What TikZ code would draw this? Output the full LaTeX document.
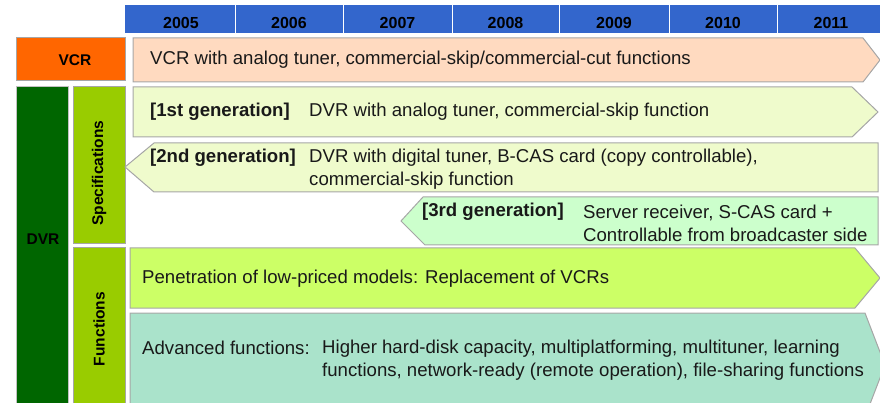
\documentclass[tikz,border=0pt]{standalone}
\usepackage{fontspec}
\setmainfont{Liberation Sans}
\definecolor{hdr}{HTML}{3366CC}
\definecolor{vcrc}{HTML}{FF6600}
\definecolor{vcrarr}{HTML}{FFDAC0}
\definecolor{gen12}{HTML}{EFFBCC}
\definecolor{gen3}{HTML}{CCFFCC}
\definecolor{pen}{HTML}{CCFF66}
\definecolor{adv}{HTML}{AAE3CB}
\definecolor{dvrc}{HTML}{006600}
\definecolor{specc}{HTML}{99CC00}
\definecolor{bord}{HTML}{A6A6A6}
\tikzset{
  shp/.style={draw=bord, line width=1pt},
  txt/.style={inner sep=0pt, anchor=west, font=\fontsize{18.6}{23}\selectfont, text=black!90, align=left},
  btxt/.style={txt, font=\fontsize{18.6}{23}\selectfont\bfseries},
  yr/.style={inner sep=0pt, font=\fontsize{16}{18}\selectfont\bfseries},
  lbl/.style={inner sep=0pt, font=\fontsize{15.5}{18}\selectfont\bfseries}
}
\begin{document}
\begin{tikzpicture}[x=1pt,y=-1pt]
\useasboundingbox (0,0) rectangle (880,403);
\clip (0,0) rectangle (880,403);
% header
\fill[hdr] (125,5) rectangle (886,33);
\foreach \xx in {235,343,452,559,669,777} \draw[white, line width=1pt] (\xx,5) -- (\xx,33);
\foreach \cx/\yy [count=\i] in {181/2005,289/2006,397.5/2007,505.5/2008,614/2009,723/2010,831/2011}
  \node[yr] (y\i) at (\cx,22.5) {\yy};
% VCR
\filldraw[shp, fill=vcrc] (16,38) rectangle (125,81);
\node[lbl] (vcr) at (75,60) {VCR};
\filldraw[shp, fill=vcrarr] (133,38) -- (863,38) -- (880,60) -- (863,82) -- (133,82) -- cycle;
\node[txt] (vcrt) at (150,60) {VCR with analog tuner, commercial-skip/commercial-cut functions};
% DVR column
\filldraw[shp, draw=bord!70, fill=dvrc] (16,87) rectangle (68,412);
\node[lbl] (dvr) at (43,239) {DVR};
\filldraw[shp, fill=specc] (73,87) rectangle (125,244);
\node[lbl, rotate=90] (spec) at (99,173) {Specifications};
\filldraw[shp, fill=specc] (73,248) rectangle (125,412);
\node[lbl, rotate=90] (func) at (99,329) {Functions};
% 1st gen
\filldraw[shp, fill=gen12] (133,87) -- (852,87) -- (878,112) -- (852,137) -- (133,137) -- cycle;
\node[btxt] (g1) at (150,112) {[1st generation]};
\node[txt] (g1t) at (309,112) {DVR with analog tuner, commercial-skip function};
% 2nd gen
\filldraw[shp, fill=gen12] (125,167) -- (154,143) -- (878,143) -- (878,192) -- (154,192) -- cycle;
\node[btxt] (g2) at (150,157.5) {[2nd generation]};
\node[txt] (g2t) at (309,169) {DVR with digital tuner, B-CAS card (copy controllable),\\commercial-skip function};
% 3rd gen
\filldraw[shp, fill=gen3] (401,221) -- (423,197) -- (878,197) -- (878,245) -- (425,245) -- cycle;
\node[btxt] (g3) at (422,212) {[3rd generation]};
\node[txt] (g3t) at (583,223) {Server receiver, S-CAS card +\\Controllable from broadcaster side};
% penetration
\filldraw[shp, fill=pen] (130,248) -- (855,248) -- (880,278) -- (855,308) -- (130,308) -- cycle;
\node[txt] (pent) at (142,279) {Penetration of low-priced models: Replacement of VCRs};
% advanced
\filldraw[shp, fill=adv] (130,313) -- (865,313) -- (885,365) -- (865,417) -- (130,417) -- cycle;
\node[txt] (adv1) at (142,348) {Advanced functions:};
\node[txt] (adv2) at (322,360) {Higher hard-disk capacity, multiplatforming, multituner, learning\\functions, network-ready (remote operation), file-sharing functions};
\end{tikzpicture}
\end{document}
